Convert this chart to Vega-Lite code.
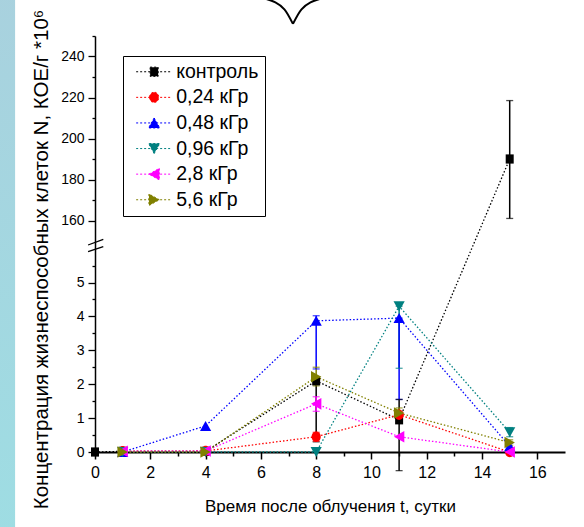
{
  "$schema": "https://vega.github.io/schema/vega-lite/v6.json",
  "width": 470,
  "height": 416,
  "autosize": {"type": "none"},
  "padding": {"left": 95, "top": 36, "right": 19, "bottom": 75},
  "background": "white",
  "config": {
    "view": {"stroke": null},
    "font": "Liberation Sans",
    "legend": {"labelFont": "Liberation Sans", "labelFontSize": 19.5, "labelColor": "black", "labelLimit": 300}
  },
  "datasets": {
    "series": [
      {"series": "контроль", "t": 0, "n": 0},
      {"series": "контроль", "t": 1, "n": 0.02},
      {"series": "контроль", "t": 4, "n": 0.02},
      {"series": "контроль", "t": 8, "n": 2.1},
      {"series": "контроль", "t": 11, "n": 0.95},
      {"series": "контроль", "t": 15, "n": 190},
      {"series": "0,24 кГр", "t": 1, "n": 0.02},
      {"series": "0,24 кГр", "t": 4, "n": 0.03},
      {"series": "0,24 кГр", "t": 8, "n": 0.45},
      {"series": "0,24 кГр", "t": 11, "n": 1.1},
      {"series": "0,24 кГр", "t": 15, "n": 0.0},
      {"series": "0,48 кГр", "t": 1, "n": 0.0},
      {"series": "0,48 кГр", "t": 4, "n": 0.77},
      {"series": "0,48 кГр", "t": 8, "n": 3.87},
      {"series": "0,48 кГр", "t": 11, "n": 3.95},
      {"series": "0,48 кГр", "t": 15, "n": 0.17},
      {"series": "0,96 кГр", "t": 1, "n": 0.0},
      {"series": "0,96 кГр", "t": 4, "n": 0.0},
      {"series": "0,96 кГр", "t": 8, "n": 0.0},
      {"series": "0,96 кГр", "t": 11, "n": 4.3},
      {"series": "0,96 кГр", "t": 15, "n": 0.58},
      {"series": "2,8 кГр", "t": 1, "n": 0.02},
      {"series": "2,8 кГр", "t": 4, "n": 0.03},
      {"series": "2,8 кГр", "t": 8, "n": 1.42},
      {"series": "2,8 кГр", "t": 11, "n": 0.45},
      {"series": "2,8 кГр", "t": 15, "n": 0.0},
      {"series": "5,6 кГр", "t": 1, "n": 0.0},
      {"series": "5,6 кГр", "t": 4, "n": 0.0},
      {"series": "5,6 кГр", "t": 8, "n": 2.22},
      {"series": "5,6 кГр", "t": 11, "n": 1.15},
      {"series": "5,6 кГр", "t": 15, "n": 0.28}
    ],
    "errs": [
      {"series": "контроль", "t": 8, "n": 0.3, "n2": 2.1},
      {"series": "контроль", "t": 11, "n": -0.55, "n2": 1.55},
      {"series": "контроль", "t": 15, "n": 161, "n2": 218.5},
      {"series": "0,24 кГр", "t": 8, "n": 0.32, "n2": 0.58},
      {"series": "0,96 кГр", "t": 11, "n": 2.47, "n2": 4.3},
      {"series": "0,48 кГр", "t": 8, "n": 2.45, "n2": 4.02},
      {"series": "0,48 кГр", "t": 11, "n": 1.55, "n2": 3.95},
      {"series": "0,48 кГр", "t": 15, "n": 0.08, "n2": 0.26},
      {"series": "0,96 кГр", "t": 15, "n": 0.45, "n2": 0.72},
      {"series": "2,8 кГр", "t": 8, "n": 1.2, "n2": 1.63},
      {"series": "5,6 кГр", "t": 8, "n": 1.95, "n2": 2.5},
      {"series": "5,6 кГр", "t": 11, "n": 1.02, "n2": 1.3},
      {"series": "5,6 кГр", "t": 15, "n": 0.2, "n2": 0.36}
    ],
    "strip": [{"t": -3.6, "t2": -2.89, "n": -2.6, "n2": 280}],
    "breaks": [
      {"t": -0.25, "t2": 0.3, "n": 97.6, "n2": 150.8},
      {"t": -0.25, "t2": 0.3, "n": 9.8, "n2": 75.3}
    ],
    "brace": [
      {"part": "L", "t": 6.2, "n": 268},
      {"part": "L", "t": 6.85, "n": 263},
      {"part": "L", "t": 7.16, "n": 255.9},
      {"part": "R", "t": 7.16, "n": 255.9},
      {"part": "R", "t": 7.47, "n": 263},
      {"part": "R", "t": 8.12, "n": 268}
    ]
  },
  "encoding": {
    "x": {
      "field": "t",
      "type": "quantitative",
      "scale": {"domain": [0, 17], "nice": false, "zero": false},
      "axis": {
        "title": "Время после облучения t, сутки",
        "values": [0, 1, 2, 3, 4, 5, 6, 7, 8, 9, 10, 11, 12, 13, 14, 15, 16],
        "format": "d",
        "labelExpr": "datum.value % 2 == 0 ? datum.label : ''",
        "tickSize": {"expr": "datum.value % 2 != 0 ? 4 : 7"},
        "tickColor": "black",
        "tickWidth": 1.5,
        "domainColor": "black",
        "domainWidth": 2,
        "grid": false,
        "labelFont": "Liberation Sans",
        "labelFontSize": 16,
        "labelColor": "black",
        "labelPadding": 5,
        "labelFlush": false,
        "labelOverlap": false,
        "titleFont": "Liberation Sans",
        "titleFontSize": 17,
        "titleFontWeight": "normal",
        "titleColor": "black",
        "titleBaseline": "alphabetic",
        "titleY": 59
      }
    },
    "y": {
      "field": "n",
      "type": "quantitative",
      "scale": {"domain": [0, 5.9, 150, 250], "range": [416, 216, 205, 0], "nice": false, "zero": false},
      "axis": {
        "title": "Концентрация жизнеспособных клеток N, КОЕ/г *10⁶",
        "values": [0, 0.5, 1, 1.5, 2, 2.5, 3, 3.5, 4, 4.5, 5, 5.5, 160, 170, 180, 190, 200, 210, 220, 230, 240, 250],
        "labelExpr": "((datum.value < 10 && datum.value % 1 != 0) || (datum.value >= 10 && datum.value % 20 != 0)) ? '' : format(datum.value, 'd')",
        "tickSize": {"expr": "((datum.value < 10 && datum.value % 1 != 0) || (datum.value >= 10 && datum.value % 20 != 0)) ? 3 : 7"},
        "tickColor": "black",
        "tickWidth": 1.3,
        "domainColor": "black",
        "domainWidth": 1.5,
        "grid": false,
        "labelFont": "Liberation Sans",
        "labelFontSize": 14,
        "labelColor": "black",
        "labelPadding": 4,
        "labelOverlap": false,
        "titleFont": "Liberation Sans",
        "titleFontSize": 20.5,
        "titleFontWeight": "normal",
        "titleColor": "black",
        "titleAngle": 270,
        "titleAlign": "center",
        "titleBaseline": "alphabetic",
        "titleX": -48,
        "titleY": 223
      }
    }
  },
  "layer": [
    {
      "data": {"name": "strip"},
      "mark": {
        "type": "rect",
        "clip": false,
        "color": {"gradient": "linear", "x1": 0, "y1": 0, "x2": 0, "y2": 1,
          "stops": [{"offset": 0, "color": "#a9d1de"}, {"offset": 1, "color": "#9edde3"}]}
      },
      "encoding": {"x2": {"field": "t2"}, "y2": {"field": "n2"}}
    },
    {
      "data": {"name": "brace"},
      "mark": {"type": "line", "color": "black", "strokeWidth": 2, "interpolate": "monotone", "clip": false},
      "encoding": {"detail": {"field": "part"}}
    },
    {
      "data": {"name": "breaks"},
      "mark": {"type": "rule", "color": "black", "strokeWidth": 1.3, "clip": false},
      "encoding": {"x2": {"field": "t2"}, "y2": {"field": "n2"}}
    },
    {
      "data": {"name": "series"},
      "mark": {"type": "line", "strokeDash": [1.5, 2], "strokeWidth": 1.3, "clip": false},
      "encoding": {
        "color": {"field": "series", "type": "nominal",
          "scale": {"domain": ["контроль", "0,24 кГр", "0,48 кГр", "0,96 кГр", "2,8 кГр", "5,6 кГр"],
            "range": ["#000000", "#ff0000", "#0000ff", "#008080", "#ff00ff", "#808000"]},
          "legend": null}
      }
    },
    {
      "data": {"name": "errs"},
      "mark": {"type": "rule", "strokeWidth": 1.5, "clip": false},
      "encoding": {
        "y2": {"field": "n2"},
        "color": {"field": "series", "type": "nominal", "legend": null}
      }
    },
    {
      "data": {"name": "errs"},
      "mark": {"type": "tick", "orient": "horizontal", "size": 7, "thickness": 1.3, "clip": false},
      "encoding": {
        "color": {"field": "series", "type": "nominal", "legend": null}
      }
    },
    {
      "data": {"name": "errs"},
      "mark": {"type": "tick", "orient": "horizontal", "size": 7, "thickness": 1.3, "clip": false},
      "encoding": {
        "y": {"field": "n2", "type": "quantitative"},
        "color": {"field": "series", "type": "nominal", "legend": null}
      }
    },
    {
      "data": {"name": "series"},
      "mark": {"type": "point", "filled": true, "size": 64, "opacity": 1, "clip": false},
      "encoding": {
        "color": {"field": "series", "type": "nominal", "legend": null},
        "shape": {"field": "series", "type": "nominal", "legend": null,
          "scale": {"domain": ["контроль", "0,24 кГр", "0,48 кГр", "0,96 кГр", "2,8 кГр", "5,6 кГр"],
            "range": [
              "M-1,-1.15H1V1.15H-1Z",
              "M-1.15,0A1.15,1.3 0 1,0 1.15,0A1.15,1.3 0 1,0 -1.15,0Z",
              "M0,-1.25L1.4,1.25H-1.4Z",
              "M0,1.25L1.4,-1.25H-1.4Z",
              "M-1.3,0L1.3,-1.45V1.45Z",
              "M1.3,0L-1.3,-1.45V1.45Z"
            ]}}
      }
    },
    {
      "data": {"name": "series"},
      "mark": {"type": "point", "filled": true, "opacity": 0, "strokeWidth": 1, "strokeDash": [2, 2], "clip": false},
      "encoding": {
        "fill": {"field": "series", "type": "nominal",
          "scale": {"domain": ["контроль", "0,24 кГр", "0,48 кГр", "0,96 кГр", "2,8 кГр", "5,6 кГр"],
            "range": ["#000000", "#ff0000", "#0000ff", "#008080", "#ff00ff", "#808000"]},
          "legend": {"title": null, "orient": "none", "legendX": 28, "legendY": 20, "direction": "vertical",
            "strokeColor": "black", "fillColor": "white", "padding": 6, "symbolSize": 64, "symbolStrokeWidth": 1,
            "symbolDash": [2, 2], "symbolOpacity": 1, "symbolOffset": 15.4, "labelOffset": 12.3,
            "labelFont": "Liberation Sans", "labelFontSize": 19.5, "labelColor": "black", "rowPadding": 4.6}},
        "stroke": {"field": "series", "type": "nominal",
          "scale": {"domain": ["контроль", "0,24 кГр", "0,48 кГр", "0,96 кГр", "2,8 кГр", "5,6 кГр"],
            "range": ["#000000", "#ff0000", "#0000ff", "#008080", "#ff00ff", "#808000"]},
          "legend": {"title": null, "orient": "none", "legendX": 28, "legendY": 20, "direction": "vertical",
            "strokeColor": "black", "fillColor": "white", "padding": 6, "symbolSize": 64, "symbolStrokeWidth": 1,
            "symbolDash": [2, 2], "symbolOpacity": 1, "symbolOffset": 15.4, "labelOffset": 12.3,
            "labelFont": "Liberation Sans", "labelFontSize": 19.5, "labelColor": "black", "rowPadding": 4.6}},
        "shape": {"field": "series", "type": "nominal",
          "scale": {"domain": ["контроль", "0,24 кГр", "0,48 кГр", "0,96 кГр", "2,8 кГр", "5,6 кГр"],
            "range": [
              "M-4.5,0H4.5M-1,-1.15H1V1.15H-1Z",
              "M-4.5,0H4.5M-1.15,0A1.15,1.3 0 1,0 1.15,0A1.15,1.3 0 1,0 -1.15,0Z",
              "M-4.5,0H4.5M0,-1.25L1.4,1.25H-1.4Z",
              "M-4.5,0H4.5M0,1.25L1.4,-1.25H-1.4Z",
              "M-4.5,0H4.5M-1.3,0L1.3,-1.45V1.45Z",
              "M-4.5,0H4.5M1.3,0L-1.3,-1.45V1.45Z"
            ]},
          "legend": {"title": null, "orient": "none", "legendX": 28, "legendY": 20, "direction": "vertical",
            "strokeColor": "black", "fillColor": "white", "padding": 6, "symbolSize": 64, "symbolStrokeWidth": 1,
            "symbolDash": [2, 2], "symbolOpacity": 1, "symbolOffset": 15.4, "labelOffset": 12.3,
            "labelFont": "Liberation Sans", "labelFontSize": 19.5, "labelColor": "black", "rowPadding": 4.6}}
      }
    }
  ],
  "resolve": {
    "scale": {"shape": "independent", "fill": "independent", "stroke": "independent"},
    "legend": {"shape": "independent", "fill": "independent", "stroke": "independent"}
  }
}
